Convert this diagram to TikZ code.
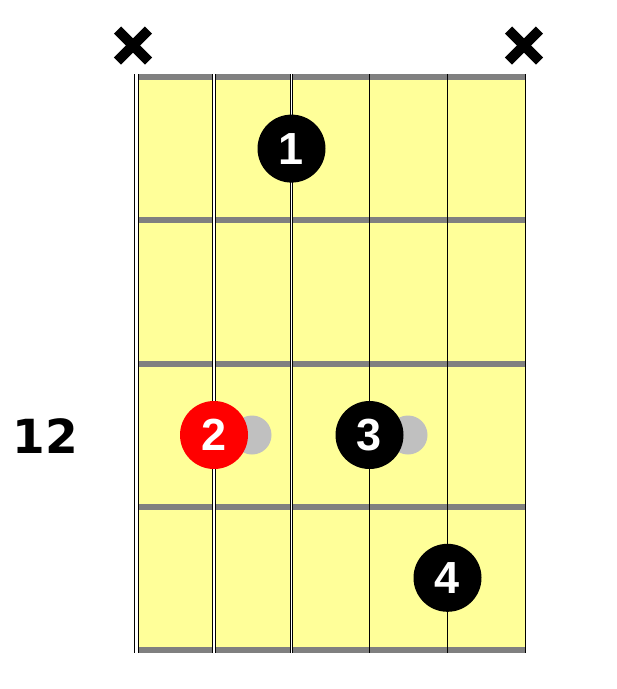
\documentclass[tikz,border=0pt]{standalone}
\usepackage{fontspec}
\newfontfamily\numfont{Liberation Sans}
\newfontfamily\labfont{DejaVu Sans}
\definecolor{board}{HTML}{FFFF99}
\definecolor{fretgray}{HTML}{808080}
\definecolor{ghost}{HTML}{C0C0C0}
\definecolor{redfinger}{HTML}{FF0000}
\begin{document}
\begin{tikzpicture}[x=1pt,y=-1pt,
  fretline/.style={draw=fretgray,line width=6pt},
  finger/.style={circle,fill=black,minimum size=68pt,inner sep=0pt,text=white,font=\numfont\bfseries\fontsize{45}{45}\selectfont},
  ghostdot/.style={circle,fill=ghost,minimum size=39pt,inner sep=0pt},
  mute/.style={line width=10pt,line cap=butt},
  plainstring/.style={line width=1.5pt,draw=black}]
\useasboundingbox (0,0) rectangle (617,689);
% coordinates
\foreach \i/\x in {1/136.5,2/214,3/291.5,4/369.5,5/447.5,6/525.5}{
  \coordinate (st\i) at (\x,74);
  \coordinate (sb\i) at (\x,653);
}
\foreach \j/\y in {0/77,1/220.25,2/363.5,3/506.75,4/650}{
  \coordinate (fl\j) at (136.5,\y);
  \coordinate (fr\j) at (526,\y);
}
% board
\fill[board] (fl0) rectangle (fr4);
% frets
\foreach \j in {0,...,4}{\draw[fretline] (fl\j) -- (fr\j);}
% wound strings
\draw[line width=4.7pt] (st1) -- (sb1);
\draw[line width=2.5pt,white] (st1) -- (sb1);
\draw[line width=3.7pt] (st2) -- (sb2);
\draw[line width=1.7pt,white] (st2) -- (sb2);
\draw[line width=2.7pt] (st3) -- (sb3);
\draw[line width=0.9pt,white] (st3) -- (sb3);
% plain strings
\foreach \i in {4,5,6}{\draw[plainstring] (st\i) -- (sb\i);}
% ghost dots
\node[ghostdot] (g1) at (252,435) {};
\node[ghostdot] (g2) at (408,435) {};
% fingers
\node[finger] (f1) at (291.5,148.6) {1};
\node[finger,fill=redfinger] (f2) at (214,435) {2};
\node[finger] (f3) at (369.5,435) {3};
\node[finger] (f4) at (447.5,577.8) {4};
% mutes
\coordinate (m1) at (133,45.5);
\coordinate (m6) at (524,45.5);
\foreach \m in {m1,m6}{
  \draw[mute] ([shift={(-15.5,-15.5)}]\m) -- ([shift={(15.5,15.5)}]\m);
  \draw[mute] ([shift={(-15.5,15.5)}]\m) -- ([shift={(15.5,-15.5)}]\m);
}
% fret label
\node[font=\labfont\bfseries\fontsize{47}{47}\selectfont,inner sep=0pt] (lab) at (45.5,436) {12};
\end{tikzpicture}
\end{document}
